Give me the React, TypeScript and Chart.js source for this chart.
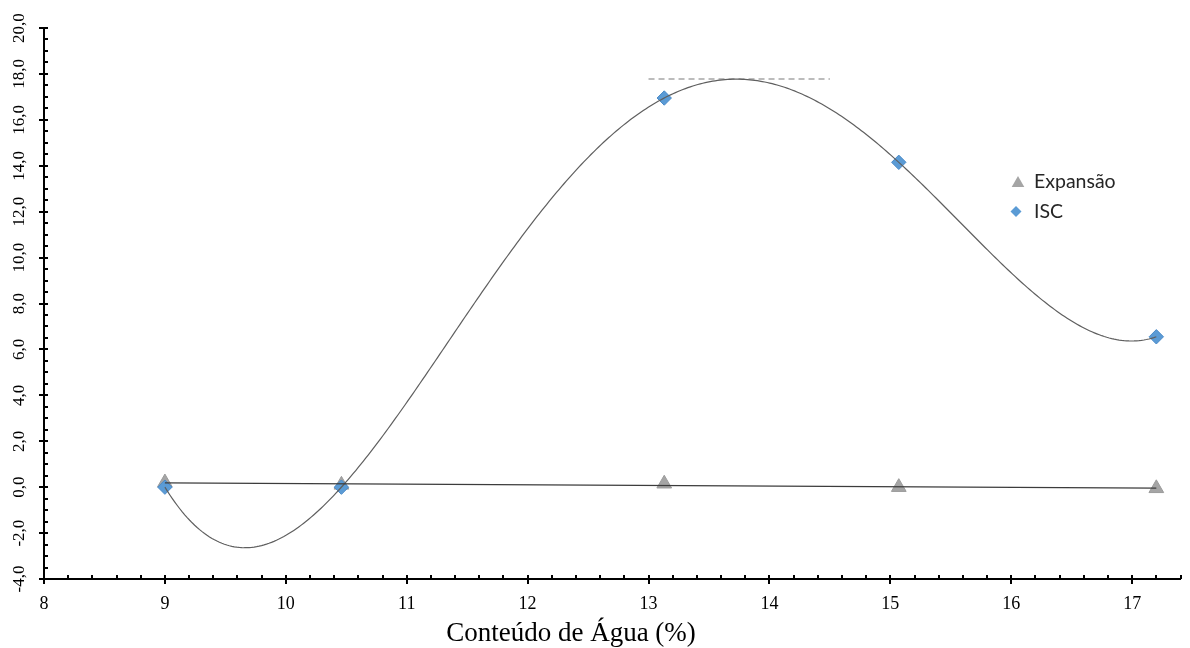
import React, { useEffect, useRef } from 'react';
import { Chart, registerables } from 'chart.js';

Chart.register(...registerables);

// ---- data ----
const waterContent = [9.0, 10.46, 13.13, 15.07, 17.2];
const iscValues = [0.0, 0.0, 16.95, 14.15, 6.55];
const expansionValues = [0.2, 0.1, 0.15, 0.0, -0.05];
const peakLineX = [13.0, 14.5];
const peakLineY = [17.78, 17.78];
const xTickValues = [8, 9, 10, 11, 12, 13, 14, 15, 16, 17];
const yTickValues = [-4, -2, 0, 2, 4, 6, 8, 10, 12, 14, 16, 18, 20];
const seriesLabels = ['Expansão', 'ISC'];
const xAxisTitle = 'Conteúdo de Água (%)';

// least squares polynomial fit (trendline, like a spreadsheet trendline)
function polyFit(xs: number[], ys: number[], degree: number, center: number) {
  const n = degree + 1;
  const A: number[][] = [];
  for (let r = 0; r < n; r++) {
    const row: number[] = [];
    for (let c = 0; c < n; c++) {
      let s = 0;
      xs.forEach((x) => { s += Math.pow(x - center, r + c); });
      row.push(s);
    }
    let s = 0;
    xs.forEach((x, i) => { s += Math.pow(x - center, r) * ys[i]; });
    row.push(s);
    A.push(row);
  }
  for (let i = 0; i < n; i++) {
    let p = i;
    for (let k = i + 1; k < n; k++) if (Math.abs(A[k][i]) > Math.abs(A[p][i])) p = k;
    [A[i], A[p]] = [A[p], A[i]];
    for (let k = i + 1; k < n; k++) {
      const f = A[k][i] / A[i][i];
      for (let c = i; c <= n; c++) A[k][c] -= f * A[i][c];
    }
  }
  const coef = new Array(n).fill(0);
  for (let i = n - 1; i >= 0; i--) {
    let s = A[i][n];
    for (let c = i + 1; c < n; c++) s -= A[i][c] * coef[c];
    coef[i] = s / A[i][i];
  }
  return (x: number) => coef.reduce((acc, c, i) => acc + c * Math.pow(x - center, i), 0);
}

const iscTrend = polyFit(waterContent, iscValues, 4, 13);
const expTrend = polyFit(waterContent, expansionValues, 1, 13);

const trendPlugin = {
  id: 'trendlines',
  afterDatasetsDraw(chart: any) {
    const { ctx, scales } = chart;
    const xs = scales.x, ys = scales.y;
    const x0 = waterContent[0], x1 = waterContent[waterContent.length - 1];
    ctx.save();
    // polynomial trendline for ISC
    ctx.beginPath();
    const steps = 400;
    for (let i = 0; i <= steps; i++) {
      const xv = x0 + (x1 - x0) * (i / steps);
      const px = xs.getPixelForValue(xv);
      const py = ys.getPixelForValue(iscTrend(xv));
      if (i === 0) ctx.moveTo(px, py); else ctx.lineTo(px, py);
    }
    ctx.strokeStyle = '#5f5f5f';
    ctx.lineWidth = 1.2;
    ctx.stroke();
    // linear trendline for Expansão
    ctx.beginPath();
    ctx.moveTo(xs.getPixelForValue(x0), ys.getPixelForValue(expTrend(x0)));
    ctx.lineTo(xs.getPixelForValue(x1), ys.getPixelForValue(expTrend(x1)));
    ctx.strokeStyle = '#3c3c3c';
    ctx.lineWidth = 1.3;
    ctx.stroke();
    ctx.restore();
  },
};

const tickMarksPlugin = {
  id: 'tickMarks',
  beforeDatasetsDraw(chart: any) {
    const { ctx, scales, chartArea } = chart;
    const xs = scales.x, ys = scales.y;
    ctx.save();
    ctx.strokeStyle = '#000';
    ctx.lineWidth = 2;
    const yAxisPx = chartArea.bottom;
    const xMin = xs.min, xMax = xs.max;
    const xCount = Math.round((xMax - xMin) / 0.2);
    for (let i = 0; i <= xCount; i++) {
      const v = xMin + i * 0.2;
      const px = Math.round(xs.getPixelForValue(v));
      ctx.beginPath();
      if (i % 5 === 0) { ctx.moveTo(px, yAxisPx - 4); ctx.lineTo(px, yAxisPx + 5); }
      else { ctx.moveTo(px, yAxisPx - 4); ctx.lineTo(px, yAxisPx); }
      ctx.stroke();
    }
    const xAxisPx = chartArea.left;
    const yCount = Math.round((ys.max - ys.min) / 0.5);
    for (let i = 0; i <= yCount; i++) {
      const v = ys.min + i * 0.5;
      const py = Math.round(ys.getPixelForValue(v));
      ctx.beginPath();
      if (i % 4 === 0) { ctx.moveTo(xAxisPx - 5, py); ctx.lineTo(xAxisPx + 4, py); }
      else { ctx.moveTo(xAxisPx, py); ctx.lineTo(xAxisPx + 4, py); }
      ctx.stroke();
    }
    ctx.restore();
  },
};

const titleAndLegendPlugin = {
  id: 'titleAndLegend',
  afterDraw(chart: any) {
    const { ctx } = chart;
    ctx.save();
    // x axis title
    ctx.fillStyle = '#000';
    ctx.font = '27px "Liberation Serif"';
    ctx.textAlign = 'center';
    ctx.textBaseline = 'alphabetic';
    ctx.fillText(xAxisTitle, 571, 641);
    // legend
    const ds = chart.data.datasets;
    ctx.font = '19.5px Lato';
    ctx.textAlign = 'left';
    ctx.textBaseline = 'middle';
    // triangle
    ctx.fillStyle = ds[0].backgroundColor;
    ctx.beginPath();
    ctx.moveTo(1018, 176);
    ctx.lineTo(1024.3, 187);
    ctx.lineTo(1011.7, 187);
    ctx.closePath();
    ctx.fill();
    ctx.fillStyle = '#262626';
    ctx.fillText(ds[0].label, 1034, 182);
    // diamond
    ctx.fillStyle = ds[1].backgroundColor;
    ctx.beginPath();
    ctx.moveTo(1016, 206);
    ctx.lineTo(1021.5, 211.5);
    ctx.lineTo(1016, 217);
    ctx.lineTo(1010.5, 211.5);
    ctx.closePath();
    ctx.fill();
    ctx.fillStyle = '#262626';
    ctx.fillText(ds[1].label, 1034, 212);
    ctx.restore();
  },
};

export default function App() {
  const ref = useRef<HTMLCanvasElement>(null);
  useEffect(() => {
    if (!ref.current) return;
    const chart = new Chart(ref.current, {
      type: 'scatter',
      data: {
        datasets: [
          {
            label: seriesLabels[0],
            data: waterContent.map((x, i) => ({ x, y: expansionValues[i] })),
            pointStyle: 'triangle',
            pointRadius: 8.5,
            backgroundColor: '#a5a5a5',
            borderColor: '#9b9b9b',
            borderWidth: 1,
            order: 3,
          },
          {
            label: seriesLabels[1],
            data: waterContent.map((x, i) => ({ x, y: iscValues[i] })),
            pointStyle: 'rectRot',
            pointRadius: 7.2,
            backgroundColor: '#5b9bd5',
            borderColor: '#4a8ac8',
            borderWidth: 1,
            order: 2,
          },
          {
            type: 'line',
            label: 'peak',
            data: peakLineX.map((x, i) => ({ x, y: peakLineY[i] })),
            showLine: true,
            borderColor: '#a6a6a6',
            borderWidth: 1.5,
            borderDash: [6, 4],
            pointRadius: 0,
            order: 1,
          } as any,
        ],
      },
      options: {
        animation: false,
        responsive: true,
        maintainAspectRatio: false,
        layout: { padding: { top: 28, right: 2, left: 0, bottom: 0 } },
        plugins: { legend: { display: false }, tooltip: { enabled: false } },
        scales: {
          x: {
            type: 'linear',
            min: 8,
            max: 17.4,
            afterFit: (s: any) => { s.height = 69; },
            afterBuildTicks: (s: any) => { s.ticks = xTickValues.map((v) => ({ value: v })); },
            grid: { display: false, drawTicks: false },
            border: { display: true, color: '#000', width: 2 },
            ticks: {
              autoSkip: false,
              includeBounds: false,
              maxRotation: 0,
              minRotation: 0,
              padding: 14,
              color: '#000',
              font: { family: '"Liberation Serif"', size: 18 },
              callback: (v: any) => String(v),
            },
          },
          y: {
            type: 'linear',
            min: -4,
            max: 20,
            afterFit: (s: any) => { s.width = 44; },
            afterBuildTicks: (s: any) => { s.ticks = yTickValues.map((v) => ({ value: v })); },
            grid: { display: false, drawTicks: false },
            border: { display: true, color: '#000', width: 2 },
            ticks: {
              autoSkip: false,
              minRotation: 90,
              maxRotation: 90,
              crossAlign: 'center',
              padding: 10,
              color: '#000',
              font: { family: '"Liberation Serif"', size: 17 },
              callback: (v: any) => Number(v).toFixed(1).replace('.', ','),
            },
          },
        },
      },
      plugins: [tickMarksPlugin, trendPlugin, titleAndLegendPlugin],
    } as any);
    return () => chart.destroy();
  }, []);
  return (
    <div style={{ position: 'fixed', left: 0, top: 0, width: 1190, height: 648, background: '#fff' }}>
      <canvas ref={ref} />
    </div>
  );
}
